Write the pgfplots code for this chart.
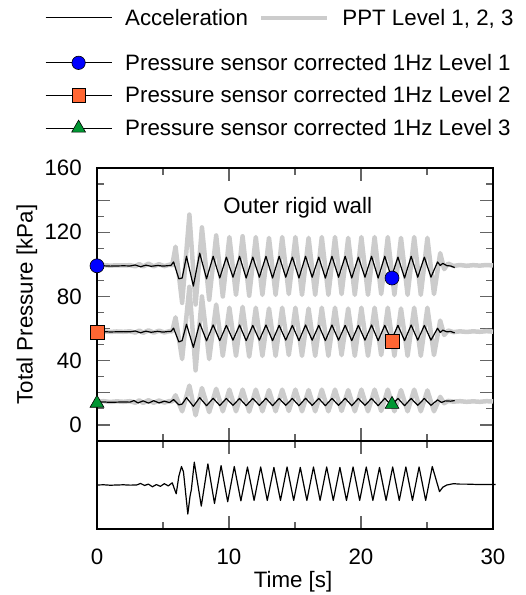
\documentclass[border=0pt]{standalone}
\usepackage{pgfplots}
\pgfplotsset{compat=1.18}
\usepackage{fontspec}
\setmainfont{Liberation Sans}
\definecolor{pgray}{RGB}{204,204,204}
\definecolor{porange}{RGB}{255,102,51}
\definecolor{pgreen}{RGB}{0,150,50}
\definecolor{tickgray}{RGB}{100,100,100}

\pgfplotsset{
  myaxis/.style={
    scale only axis, width=396bp,
    xmin=0, xmax=30,
    axis line style={line width=1.2bp, black},
    tick align=inside, tick pos=both,
    major tick length=13bp, minor tick length=7bp,
    tick style={tickgray, line width=1.2bp},
    font=\fontsize{22.3bp}{26bp}\selectfont,
    /pgf/number format/assume math mode=true,
    clip=false,
    xtick={0,10,20,30}, minor xtick={5,15,25},
    yticklabel style={inner sep=0bp, xshift=-15bp},
    xticklabel style={inner sep=0bp, yshift=-20bp},
    legend image code/.code={\draw[mark repeat=2,mark phase=2,#1] plot coordinates {(0bp,0bp) (33bp,0bp) (66bp,0bp)};},
  },
  grayline/.style={pgray, line width=4.5bp, line join=round, forget plot},
  blkline/.style={black, line width=1.2bp, line join=round, forget plot},
}

\begin{document}
\begin{tikzpicture}
\path[use as bounding box] (0,0) rectangle (526bp,-595bp);

\begin{axis}[myaxis, at={(97bp,-168bp)}, anchor=north west, height=273bp,
  ymin=-10, ymax=160,
  ytick={0,20,40,60,80,100,120,140,160},
  yticklabels={0,,40,,80,,120,,160},
  minor ytick={-10,10,30,50,70,90,110,130,150},
  xticklabels={},
  every axis y label/.style={at={(axis description cs:-0.177,0.5)}, rotate=90, anchor=center},
  ylabel={Total Pressure [kPa]},
  legend style={draw=none, fill=none, inner sep=0pt, outer sep=0pt,
    at={(axis description cs:-0.1313,1.4176)}, anchor=north west,
    row sep=15bp, nodes={inner sep=0bp},
    /tikz/every odd column/.style={column sep=13bp}},
  legend cell align=left,
]
% PPT gray lines
\addplot[grayline] coordinates {(0,99.3)(0.5,99.5)(1,99.2)(1.5,99.4)(2,99.3)(2.5,99.5)(2.9,98.8)(3.2,100.2)(3.5,98.7)(3.9,100.4)(4.3,98.8)(4.7,100.1)(5.1,98.9)(5.5,99.8)(5.7,99.5)(5.95,111)(6.45,76)(7.0,131)(7.47,75)(7.95,123)(8.5,78)(9.03,118)(9.53,80)(10.03,117)(10.53,81)(11.03,117.5)(11.53,80.5)(12.03,117)(12.53,81)(13.03,116.5)(13.53,81)(14.03,117)(14.53,81.5)(15.03,117)(15.53,81)(16.03,116.5)(16.53,81)(17.03,117)(17.53,81)(18.03,117)(18.53,81.5)(19.03,116.5)(19.53,81)(20.03,117)(20.53,81)(21.03,117)(21.53,81.5)(22.03,117)(22.53,81)(23.03,116.5)(23.53,81)(24.03,117)(24.53,81)(25.03,116.5)(25.53,81.5)(26.0,107)(26.3,97)(26.6,100.5)(27.0,99)(27.5,99.6)(28,99.1)(28.5,99.5)(29,99.2)(29.5,99.6)(30,99.3)};
\addplot[grayline] coordinates {(0,58)(0.5,58.3)(1,57.9)(1.5,58.2)(2,58)(2.5,58.3)(2.9,57.5)(3.2,58.8)(3.5,57.4)(3.9,58.9)(4.3,57.5)(4.7,58.7)(5.1,57.6)(5.5,58.4)(5.7,58.3)(5.95,67)(6.45,41)(7.0,86)(7.47,34)(7.95,80)(8.5,41)(9.03,75)(9.53,43)(10.03,73)(10.53,43)(11.03,73.5)(11.53,42.5)(12.03,73)(12.53,43)(13.03,72.5)(13.53,43)(14.03,73)(14.53,43.5)(15.03,73)(15.53,43)(16.03,72.5)(16.53,43)(17.03,73)(17.53,43)(18.03,73)(18.53,43.5)(19.03,72.5)(19.53,43)(20.03,73)(20.53,43)(21.03,73)(21.53,43.5)(22.03,73)(22.53,43)(23.03,72.5)(23.53,43)(24.03,73)(24.53,43)(25.03,73)(25.53,43.5)(26.0,65)(26.3,56)(26.6,58.8)(27.0,57.8)(27.5,58.3)(28,57.9)(28.5,58.3)(29,58)(29.5,58.4)(30,58.1)};
\addplot[grayline] coordinates {(0,14.5)(0.5,14.8)(1,14.3)(1.5,14.7)(2,14.4)(2.5,14.8)(2.9,13.8)(3.2,15.3)(3.5,13.7)(3.9,15.4)(4.3,13.8)(4.7,15.2)(5.1,13.9)(5.5,14.9)(5.7,14.6)(5.95,18.5)(6.45,8.5)(7.0,24.5)(7.47,6)(7.95,23)(8.5,8)(9.03,22.5)(9.53,8.5)(10.03,22)(10.53,8.5)(11.03,22)(11.53,8.3)(12.03,22)(12.53,8.5)(13.03,21.7)(13.53,8.5)(14.03,22)(14.53,8.7)(15.03,22)(15.53,8.5)(16.03,21.7)(16.53,8.5)(17.03,22)(17.53,8.5)(18.03,22)(18.53,8.7)(19.03,21.7)(19.53,8.5)(20.03,22)(20.53,8.5)(21.03,22)(21.53,8.7)(22.03,22)(22.53,8.5)(23.03,21.7)(23.53,8.5)(24.03,22)(24.53,8.5)(25.03,21.5)(25.53,8.5)(26.0,17.5)(26.3,13.5)(26.6,15)(27,14.5)(27.5,14.8)(28,14.4)(28.5,14.7)(29,14.4)(29.5,14.8)(30,14.6)};
% Pressure sensor black lines
\addplot[blkline] coordinates {(0,99)(0.5,99.1)(1,98.9)(1.5,99)(2,99.1)(2.5,99)(2.9,99.6)(3.3,98.5)(3.7,99.5)(4.1,98.8)(4.6,99.3)(5.0,98.9)(5.4,99.2)(5.6,99.3)(5.8,101.5)(6.2,91)(6.45,91.5)(6.78,105)(7.3,86.5)(7.78,107)(8.3,91)(8.8,105)(9.3,91.5)(9.8,104.5)(10.3,92)(10.8,105)(11.3,91.5)(11.8,104.5)(12.3,92)(12.8,105)(13.3,91.5)(13.8,105)(14.3,92)(14.8,104.5)(15.3,91.5)(15.8,105)(16.3,92)(16.8,104.5)(17.3,91.5)(17.8,105)(18.3,92)(18.8,105)(19.3,91.5)(19.8,104.5)(20.3,92)(20.8,105)(21.3,91.5)(21.8,105)(22.3,92)(22.8,104.5)(23.3,91.5)(23.8,105)(24.3,92)(24.8,104.5)(25.3,92)(25.8,101.5)(26.0,99.3)(26.2,100.6)(26.5,99.2)(26.8,99)(27.1,98)};
\addplot[blkline] coordinates {(0,58)(0.5,58.1)(1,57.9)(1.5,58)(2,58.1)(2.5,58)(2.9,58.5)(3.3,57.4)(3.7,58.4)(4.1,57.7)(4.6,58.3)(5.0,57.8)(5.4,58.2)(5.6,58.2)(5.8,60.3)(6.2,51.7)(6.45,52.5)(6.78,62.7)(7.3,48.3)(7.78,63.4)(8.3,52.4)(8.8,62.3)(9.3,52.5)(9.8,62)(10.3,52.8)(10.8,62.2)(11.3,52.5)(11.8,62)(12.3,52.8)(12.8,62.2)(13.3,52.5)(13.8,62)(14.3,52.8)(14.8,62)(15.3,52.5)(15.8,62.2)(16.3,52.8)(16.8,62)(17.3,52.5)(17.8,62.2)(18.3,52.8)(18.8,62)(19.3,52.5)(19.8,62)(20.3,52.8)(20.8,62.2)(21.3,52.5)(21.8,62)(22.3,52.8)(22.8,62)(23.3,52.5)(23.8,62.2)(24.3,52.8)(24.8,62)(25.3,52.8)(25.8,60.2)(26.0,57.6)(26.2,59)(26.5,58)(26.8,58.2)(27.1,57.3)};
\addplot[blkline] coordinates {(0,14.2)(0.5,14.3)(1,14.1)(1.5,14.2)(2,14.3)(2.5,14.2)(2.8,15.2)(3.1,13.7)(3.5,15)(3.9,13.6)(4.3,15.1)(4.7,13.7)(5.1,14.8)(5.5,13.9)(5.8,15.8)(6.2,12.5)(6.45,13)(6.78,17)(7.3,11.6)(7.78,17)(8.3,12)(8.8,16.6)(9.3,12.1)(9.8,16.5)(10.3,12.2)(10.8,16.5)(11.3,12)(11.8,16.5)(12.3,12.2)(12.8,16.6)(13.3,12)(13.8,16.5)(14.3,12.2)(14.8,16.5)(15.3,12)(15.8,16.6)(16.3,12.2)(16.8,16.5)(17.3,12)(17.8,16.5)(18.3,12.2)(18.8,16.6)(19.3,12)(19.8,16.5)(20.3,12.2)(20.8,16.5)(21.3,12)(21.8,16.6)(22.3,12.2)(22.8,16.5)(23.3,12)(23.8,16.5)(24.3,12.2)(24.8,16.5)(25.3,12.2)(25.8,15.6)(26.1,14)(26.4,15)(26.8,14.8)(27.1,15.2)};
% markers
\addplot[only marks, mark=*, mark size=7bp, mark options={fill=blue, draw=black, line width=0.6bp}, forget plot] coordinates {(0,99.1)(22.35,91.5)};
\addplot[only marks, mark=square*, mark size=7bp, mark options={fill=porange, draw=black, line width=0.6bp}, forget plot] coordinates {(0,57.9)(22.35,51.9)};
\addplot[only marks, mark=triangle*, mark size=8bp, mark options={fill=pgreen, draw=black, line width=0.6bp}, forget plot] coordinates {(0,13.5)(22.35,12.8)};
\node at (axis cs:15.2,135.4) {Outer rigid wall};
\addlegendimage{black, line width=1.2bp, mark=*, mark size=6.7bp, mark options={fill=blue, draw=black, line width=0.6bp}}
\addlegendentry{Pressure sensor corrected 1Hz Level 1}
\addlegendimage{black, line width=1.2bp, mark=square*, mark size=6.7bp, mark options={fill=porange, draw=black, line width=0.6bp}}
\addlegendentry{Pressure sensor corrected 1Hz Level 2}
\addlegendimage{black, line width=1.2bp, mark=triangle*, mark size=8bp, mark options={fill=pgreen, draw=black, line width=0.6bp}}
\addlegendentry{Pressure sensor corrected 1Hz Level 3}
\end{axis}

\begin{axis}[myaxis, at={(97bp,-441bp)}, anchor=north west, height=88bp,
  ymin=-1, ymax=1,
  ytick=\empty, minor ytick={-0.5,0.5},
  every axis x label/.style={at={(axis description cs:0.495,-0.602)}, anchor=center},
  xlabel={Time [s]},
  legend columns=2,
  legend style={draw=none, fill=none, inner sep=0pt, outer sep=0pt,
    at={(axis description cs:-0.1313,5.909)}, anchor=north west,
    nodes={inner sep=0bp},
    /tikz/every odd column/.style={column sep=13bp},
    /tikz/every even column/.style={column sep=11bp}},
  legend cell align=left,
]
\addplot[black, line width=1.2bp, line join=round] coordinates {(0,0)(0.5,0.005)(1,-0.005)(1.5,0)(2,0.005)(2.5,-0.003)(3.0,0)(3.3,0.035)(3.6,-0.01)(3.9,0.02)(4.2,-0.04)(4.5,0.01)(4.8,-0.03)(5.1,0.03)(5.4,-0.02)(5.7,0.05)(6.0,-0.2)(6.2,0.2)(6.4,0.42)(6.55,0.3)(6.88,-0.66)(7.05,-0.25)(7.15,-0.1)(7.37,0.52)(7.9,-0.48)(8.4,0.48)(8.9,-0.42)(9.4,0.44)(9.9,-0.38)(10.4,0.42)(10.9,-0.36)(11.4,0.41)(11.9,-0.35)(12.4,0.41)(12.9,-0.35)(13.4,0.4)(13.9,-0.35)(14.4,0.41)(14.9,-0.35)(15.4,0.4)(15.9,-0.35)(16.4,0.41)(16.9,-0.35)(17.4,0.41)(17.9,-0.35)(18.4,0.4)(18.9,-0.35)(19.4,0.41)(19.9,-0.35)(20.4,0.41)(20.9,-0.35)(21.4,0.4)(21.9,-0.35)(22.4,0.41)(22.9,-0.35)(23.4,0.41)(23.9,-0.35)(24.4,0.41)(24.9,-0.35)(25.4,0.42)(25.95,-0.15)(26.2,-0.05)(26.5,0.0)(27,0.03)(27.5,0.02)(28,0.02)(29,0.01)(30.2,0.01)};
\addlegendentry{Acceleration}
\addlegendimage{pgray, line width=4.5bp}
\addlegendentry{PPT Level 1, 2, 3}
\end{axis}
\end{tikzpicture}
\end{document}
